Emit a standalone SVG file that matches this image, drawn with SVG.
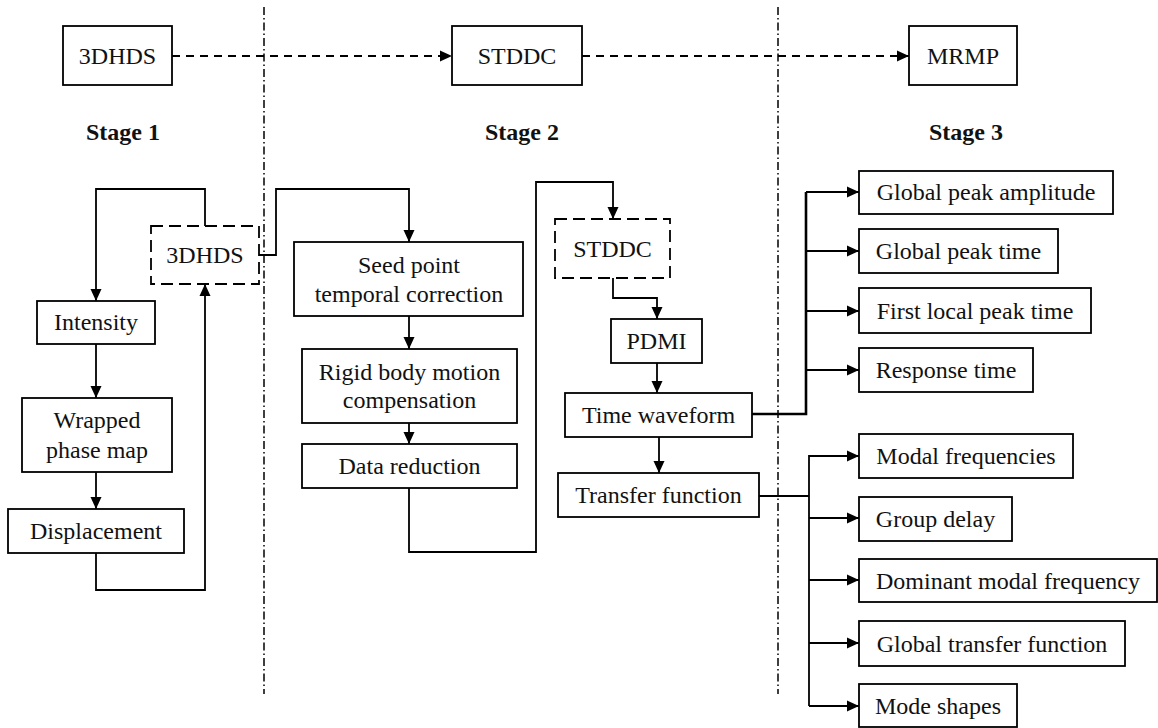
<svg xmlns="http://www.w3.org/2000/svg" width="1158" height="728" viewBox="0 0 1158 728">
<style>
.box{fill:#fff;stroke:#000;stroke-width:1.8}
.dbox{fill:#fff;stroke:#000;stroke-width:1.8;stroke-dasharray:12 6}
.t{font-family:"Liberation Serif","Times New Roman",serif;font-size:24px;fill:#111;text-anchor:middle}
.st{font-family:"Liberation Serif","Times New Roman",serif;font-size:24px;font-weight:bold;fill:#111;text-anchor:middle}
.c{fill:none;stroke:#000;stroke-width:1.8}
.ct{fill:none;stroke:#000;stroke-width:2.6}
.dash{fill:none;stroke:#000;stroke-width:1.8;stroke-dasharray:8 6}
.sep{fill:none;stroke:#000;stroke-width:1.5;stroke-dasharray:8 3 1.5 3}
</style>
<defs>
<marker id="ah" markerUnits="userSpaceOnUse" markerWidth="13" markerHeight="12" refX="12" refY="6" orient="auto">
<path d="M0,0.5 L12,6 L0,11.5 z" fill="#000"/>
</marker>
</defs>
<rect width="1158" height="728" fill="#fff"/>
<g id="separators">
<line class="sep" x1="264" y1="7" x2="264" y2="694"/>
<line class="sep" x1="778" y1="7" x2="778" y2="694"/>
</g>
<g id="stage-labels">
<text class="st" x="123" y="140">Stage 1</text>
<text class="st" x="522" y="140">Stage 2</text>
<text class="st" x="966" y="140">Stage 3</text>
</g>
<g id="connectors">
<path class="dash" d="M172,56 H452" marker-end="url(#ah)"/>
<path class="dash" d="M582,56 H909" marker-end="url(#ah)"/>
<path class="c" d="M205,226 V189 H96 V301" marker-end="url(#ah)"/>
<path class="c" d="M96,344 V398" marker-end="url(#ah)"/>
<path class="c" d="M96,472 V509" marker-end="url(#ah)"/>
<path class="c" d="M96,553 V590 H205 V284" marker-end="url(#ah)"/>
<path class="c" d="M259,255 H276 V189 H409 V242" marker-end="url(#ah)"/>
<path class="c" d="M409,316 V349" marker-end="url(#ah)"/>
<path class="c" d="M409,423 V444" marker-end="url(#ah)"/>
<path class="c" d="M409,488 V552 H536 V182 H613 V219" marker-end="url(#ah)"/>
<path class="c" d="M613,278 V298 H657 V319" marker-end="url(#ah)"/>
<path class="c" d="M657,363 V393" marker-end="url(#ah)"/>
<path class="c" d="M659,437 V473" marker-end="url(#ah)"/>
<path class="ct" d="M752,414 H806 V192"/>
<path class="c" d="M806,192 H859" marker-end="url(#ah)"/>
<path class="c" d="M806,251 H859" marker-end="url(#ah)"/>
<path class="c" d="M806,311 H859" marker-end="url(#ah)"/>
<path class="c" d="M806,370 H859" marker-end="url(#ah)"/>
<path class="c" d="M759,496 H809"/>
<path class="c" d="M809,455 V706"/>
<path class="c" d="M809,456 H859" marker-end="url(#ah)"/>
<path class="c" d="M809,518 H859" marker-end="url(#ah)"/>
<path class="c" d="M809,580 H859" marker-end="url(#ah)"/>
<path class="c" d="M809,643 H859" marker-end="url(#ah)"/>
<path class="c" d="M809,706 H859" marker-end="url(#ah)"/>
</g>
<g id="top-3dhds"><rect class="box" x="63" y="26" width="109" height="59"/><text class="t" x="117.5" y="64">3DHDS</text></g>
<g id="top-stddc"><rect class="box" x="452" y="26" width="130" height="59"/><text class="t" x="517" y="64">STDDC</text></g>
<g id="top-mrmp"><rect class="box" x="909" y="26" width="108" height="59"/><text class="t" x="963" y="64">MRMP</text></g>
<g id="s1-3dhds"><rect class="dbox" x="151" y="226" width="108" height="58"/><text class="t" x="205" y="263">3DHDS</text></g>
<g id="intensity"><rect class="box" x="37" y="301" width="118" height="43"/><text class="t" x="96" y="330">Intensity</text></g>
<g id="wrapped"><rect class="box" x="22" y="398" width="150" height="74"/><text class="t" x="97" y="428">Wrapped</text><text class="t" x="97" y="458">phase map</text></g>
<g id="displacement"><rect class="box" x="8" y="509" width="176" height="44"/><text class="t" x="96" y="539">Displacement</text></g>
<g id="seed"><rect class="box" x="294" y="242" width="229" height="74"/><text class="t" x="409" y="273">Seed point</text><text class="t" x="409" y="302">temporal correction</text></g>
<g id="rigid"><rect class="box" x="302" y="349" width="215" height="74"/><text class="t" x="409.5" y="380">Rigid body motion</text><text class="t" x="409.5" y="408">compensation</text></g>
<g id="datared"><rect class="box" x="302" y="444" width="215" height="44"/><text class="t" x="409.5" y="474">Data reduction</text></g>
<g id="s2-stddc"><rect class="dbox" x="555" y="219" width="115" height="59"/><text class="t" x="612.5" y="257">STDDC</text></g>
<g id="pdmi"><rect class="box" x="611" y="319" width="91" height="44"/><text class="t" x="656.5" y="349">PDMI</text></g>
<g id="timewave"><rect class="box" x="565" y="393" width="187" height="44"/><text class="t" x="658.5" y="423">Time waveform</text></g>
<g id="transfer"><rect class="box" x="558" y="473" width="201" height="44"/><text class="t" x="658.5" y="503">Transfer function</text></g>
<g id="gpa"><rect class="box" x="859" y="171" width="254" height="43"/><text class="t" x="986" y="200">Global peak amplitude</text></g>
<g id="gpt"><rect class="box" x="859" y="229" width="199" height="44"/><text class="t" x="958.5" y="259">Global peak time</text></g>
<g id="flpt"><rect class="box" x="859" y="288" width="232" height="45"/><text class="t" x="975" y="319">First local peak time</text></g>
<g id="resp"><rect class="box" x="859" y="348" width="174" height="44"/><text class="t" x="946" y="378">Response time</text></g>
<g id="modal"><rect class="box" x="859" y="434" width="214" height="44"/><text class="t" x="966" y="464">Modal frequencies</text></g>
<g id="group"><rect class="box" x="859" y="497" width="153" height="44"/><text class="t" x="935.5" y="527">Group delay</text></g>
<g id="dominant"><rect class="box" x="859" y="559" width="298" height="43"/><text class="t" x="1008" y="589">Dominant modal frequency</text></g>
<g id="gtf"><rect class="box" x="859" y="621" width="266" height="45"/><text class="t" x="992" y="652">Global transfer function</text></g>
<g id="modes"><rect class="box" x="859" y="684" width="158" height="43"/><text class="t" x="938" y="714">Mode shapes</text></g>
</svg>
